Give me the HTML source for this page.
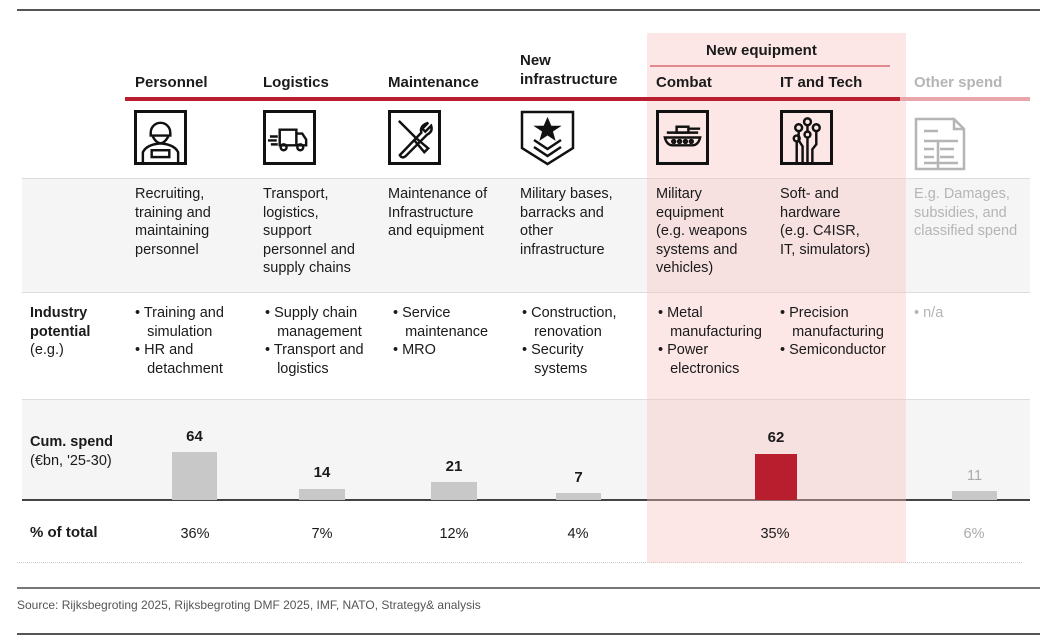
<!DOCTYPE html>
<html><head><meta charset="utf-8"><style>
*{margin:0;padding:0;box-sizing:border-box}
body{width:1053px;height:636px;background:#fff;position:relative;overflow:hidden;font-family:"Liberation Sans",Arial,sans-serif;color:#1a1a1a;font-size:14.5px}
.a{position:absolute}
.t{position:absolute;line-height:18.5px;white-space:nowrap}
.h{font-weight:bold;font-size:15px}
.g{color:#aaa}
.icon{position:absolute;top:110px;width:53px;height:55px;border:3px solid #111}
</style></head><body>
<div class="a" style="left:17px;top:9px;width:1023px;height:2px;background:#555"></div>
<div class="a" style="left:22px;top:178px;width:1008px;height:115px;background:#f5f5f5;border-top:1px solid #ddd;border-bottom:1px solid #ddd"></div>
<div class="a" style="left:22px;top:399px;width:1008px;height:101px;background:#f5f5f5;border-top:1px solid #ddd"></div>
<div class="a" style="left:22px;top:499px;width:1008px;height:2px;background:#444"></div>
<div class="a" style="left:17px;top:562px;width:1005px;height:0;border-top:1px dotted #ccc"></div>
<div class="a" style="left:647px;top:33px;width:259px;height:530px;background:rgba(248,190,190,0.38)"></div>
<div class="a" style="left:650px;top:65px;width:240px;height:2px;background:#e08a92"></div>
<div class="a" style="left:125px;top:97px;width:775px;height:4px;background:#b81e2d"></div>
<div class="a" style="left:900px;top:97px;width:130px;height:4px;background:#e8a5ab"></div>
<div class="t h" style="left:706px;top:42px">New equipment</div>
<div class="t h" style="left:135px;top:74px">Personnel</div>
<div class="t h" style="left:263px;top:74px">Logistics</div>
<div class="t h" style="left:388px;top:74px">Maintenance</div>
<div class="t h" style="left:520px;top:52px">New<br>infrastructure</div>
<div class="t h" style="left:656px;top:74px">Combat</div>
<div class="t h" style="left:780px;top:74px">IT and Tech</div>
<div class="t h g" style="left:914px;top:74px;color:#b5b5b5">Other spend</div>
<div class="icon" style="left:134px"><svg width="47" height="49" viewBox="0 0 48 50" fill="none" stroke="#111" stroke-width="2.5"><path d="M14 20a10 10 0 0 1 20 0v3H14z"/><path d="M16 24q8 14 16 0"/><path d="M6 50v-10q4-8 18-9q14 1 18 9v10"/><rect x="15" y="38" width="18" height="7"/></svg></div>
<div class="icon" style="left:263px"><svg width="47" height="49" viewBox="0 0 48 50" fill="none" stroke="#111" stroke-width="2.5"><path d="M14 17h17v16H14zM31 21h6l4 6v6H31"/><circle cx="18" cy="35" r="3"/><circle cx="35" cy="35" r="3"/><path d="M4 24h8M2 28h9M5 32h7"/></svg></div>
<div class="icon" style="left:388px"><svg width="47" height="49" viewBox="0 0 48 50" fill="none" stroke="#111" stroke-width="2.5"><path d="M38 10l-6 6 3 3 6-6q2 6-4 9l-22 22q-4 3-6-1l22-23q-2-7 7-10z"/><path d="M8 8l18 18M24 28l10 12 4-4-12-10"/></svg></div>
<div class="a" style="left:520px;top:110px"><svg width="55" height="56" viewBox="0 0 55 56" fill="none" stroke="#111" stroke-width="2.5"><path d="M2 2h51v36L27.5 54 2 38z"/><path d="M27.5 10l3 7h7l-6 4 2 7-6-4-6 4 2-7-6-4h7z" fill="#111"/><path d="M14 30l13.5 9 13.5-9M14 37l13.5 9 13.5-9"/></svg></div>
<div class="icon" style="left:656px"><svg width="47" height="49" viewBox="0 0 48 50" fill="none" stroke="#111" stroke-width="2.5"><rect x="18" y="14" width="12" height="6"/><path d="M30 16h12M8 20h32M6 25h36q-2 8-8 8H14q-6 0-8-8z"/><circle cx="15" cy="29" r="1.5"/><circle cx="21" cy="29" r="1.5"/><circle cx="27" cy="29" r="1.5"/><circle cx="33" cy="29" r="1.5"/></svg></div>
<div class="icon" style="left:780px"><svg width="47" height="49" viewBox="0 0 48 50" fill="none" stroke="#111" stroke-width="2.5"><circle cx="16" cy="15" r="3.5"/><circle cx="25" cy="9" r="3.5"/><circle cx="34" cy="15" r="3.5"/><circle cx="14" cy="26" r="3"/><circle cx="25" cy="22" r="3"/><path d="M16 18v10l4 6v16M25 12v7M25 25v25M34 18v14l-4 5v13M14 29v21"/></svg></div>
<div class="a" style="left:914px;top:117px"><svg width="54" height="54" viewBox="0 0 54 54" fill="none" stroke="#b5b5b5" stroke-width="2.5"><path d="M2 2h38l10 10v40H2z M40 2v10h10"/><path d="M10 14h14M10 24h34M10 32h10M26 32h14M10 40h10M26 40h14M10 46h34M24 24v28"/></svg></div>
<div class="t" style="left:135px;top:185px">Recruiting,<br>training and<br>maintaining<br>personnel</div>
<div class="t" style="left:263px;top:185px">Transport,<br>logistics,<br>support<br>personnel and<br>supply chains</div>
<div class="t" style="left:388px;top:185px">Maintenance of<br>Infrastructure<br>and equipment</div>
<div class="t" style="left:520px;top:185px">Military bases,<br>barracks and<br>other<br>infrastructure</div>
<div class="t" style="left:656px;top:185px">Military<br>equipment<br>(e.g. weapons<br>systems and<br>vehicles)</div>
<div class="t" style="left:780px;top:185px">Soft- and<br>hardware<br>(e.g. C4ISR,<br>IT, simulators)</div>
<div class="t" style="left:914px;top:185px;color:#b5b5b5">E.g. Damages,<br>subsidies, and<br>classified spend</div>
<div class="t" style="left:30px;top:304px"><b>Industry<br>potential</b><br>(e.g.)</div>
<div class="t" style="left:135px;top:304px">• Training and<br>&nbsp;&nbsp;&nbsp;simulation<br>• HR and<br>&nbsp;&nbsp;&nbsp;detachment</div>
<div class="t" style="left:265px;top:304px">• Supply chain<br>&nbsp;&nbsp;&nbsp;management<br>• Transport and<br>&nbsp;&nbsp;&nbsp;logistics</div>
<div class="t" style="left:393px;top:304px">• Service<br>&nbsp;&nbsp;&nbsp;maintenance<br>• MRO</div>
<div class="t" style="left:522px;top:304px">• Construction,<br>&nbsp;&nbsp;&nbsp;renovation<br>• Security<br>&nbsp;&nbsp;&nbsp;systems</div>
<div class="t" style="left:658px;top:304px">• Metal<br>&nbsp;&nbsp;&nbsp;manufacturing<br>• Power<br>&nbsp;&nbsp;&nbsp;electronics</div>
<div class="t" style="left:780px;top:304px">• Precision<br>&nbsp;&nbsp;&nbsp;manufacturing<br>• Semiconductor</div>
<div class="t" style="left:914px;top:304px;color:#b5b5b5">• n/a</div>
<div class="t" style="left:30px;top:433px"><b>Cum. spend</b><br>(€bn, '25-30)</div>
<div class="a" style="left:172px;top:452px;width:45px;height:48px;background:#c8c8c8"></div>
<div class="a" style="left:299px;top:489px;width:46px;height:11px;background:#c8c8c8"></div>
<div class="a" style="left:431px;top:482px;width:46px;height:18px;background:#c8c8c8"></div>
<div class="a" style="left:556px;top:493px;width:45px;height:7px;background:#c8c8c8"></div>
<div class="a" style="left:755px;top:454px;width:42px;height:46px;background:#b81e2d"></div>
<div class="a" style="left:952px;top:491px;width:45px;height:9px;background:#c8c8c8"></div>
<div class="t h" style="left:172px;top:428px;width:45px;text-align:center">64</div>
<div class="t h" style="left:299px;top:464px;width:46px;text-align:center">14</div>
<div class="t h" style="left:431px;top:458px;width:46px;text-align:center">21</div>
<div class="t h" style="left:556px;top:469px;width:45px;text-align:center">7</div>
<div class="t h" style="left:755px;top:429px;width:42px;text-align:center">62</div>
<div class="t" style="left:952px;top:467px;width:45px;text-align:center;color:#aaa">11</div>
<div class="t h" style="left:30px;top:524px">% of total</div>
<div class="t" style="left:165px;top:525px;width:60px;text-align:center">36%</div>
<div class="t" style="left:292px;top:525px;width:60px;text-align:center">7%</div>
<div class="t" style="left:424px;top:525px;width:60px;text-align:center">12%</div>
<div class="t" style="left:548px;top:525px;width:60px;text-align:center">4%</div>
<div class="t" style="left:745px;top:525px;width:60px;text-align:center">35%</div>
<div class="t" style="left:944px;top:525px;width:60px;text-align:center;color:#aaa">6%</div>
<div class="a" style="left:17px;top:587px;width:1023px;height:2px;background:#777"></div>
<div class="t" style="left:17px;top:596px;font-size:12px;color:#555">Source: Rijksbegroting 2025, Rijksbegroting DMF 2025, IMF, NATO, Strategy&amp; analysis</div>
<div class="a" style="left:17px;top:633px;width:1023px;height:2px;background:#555"></div>
</body></html>
